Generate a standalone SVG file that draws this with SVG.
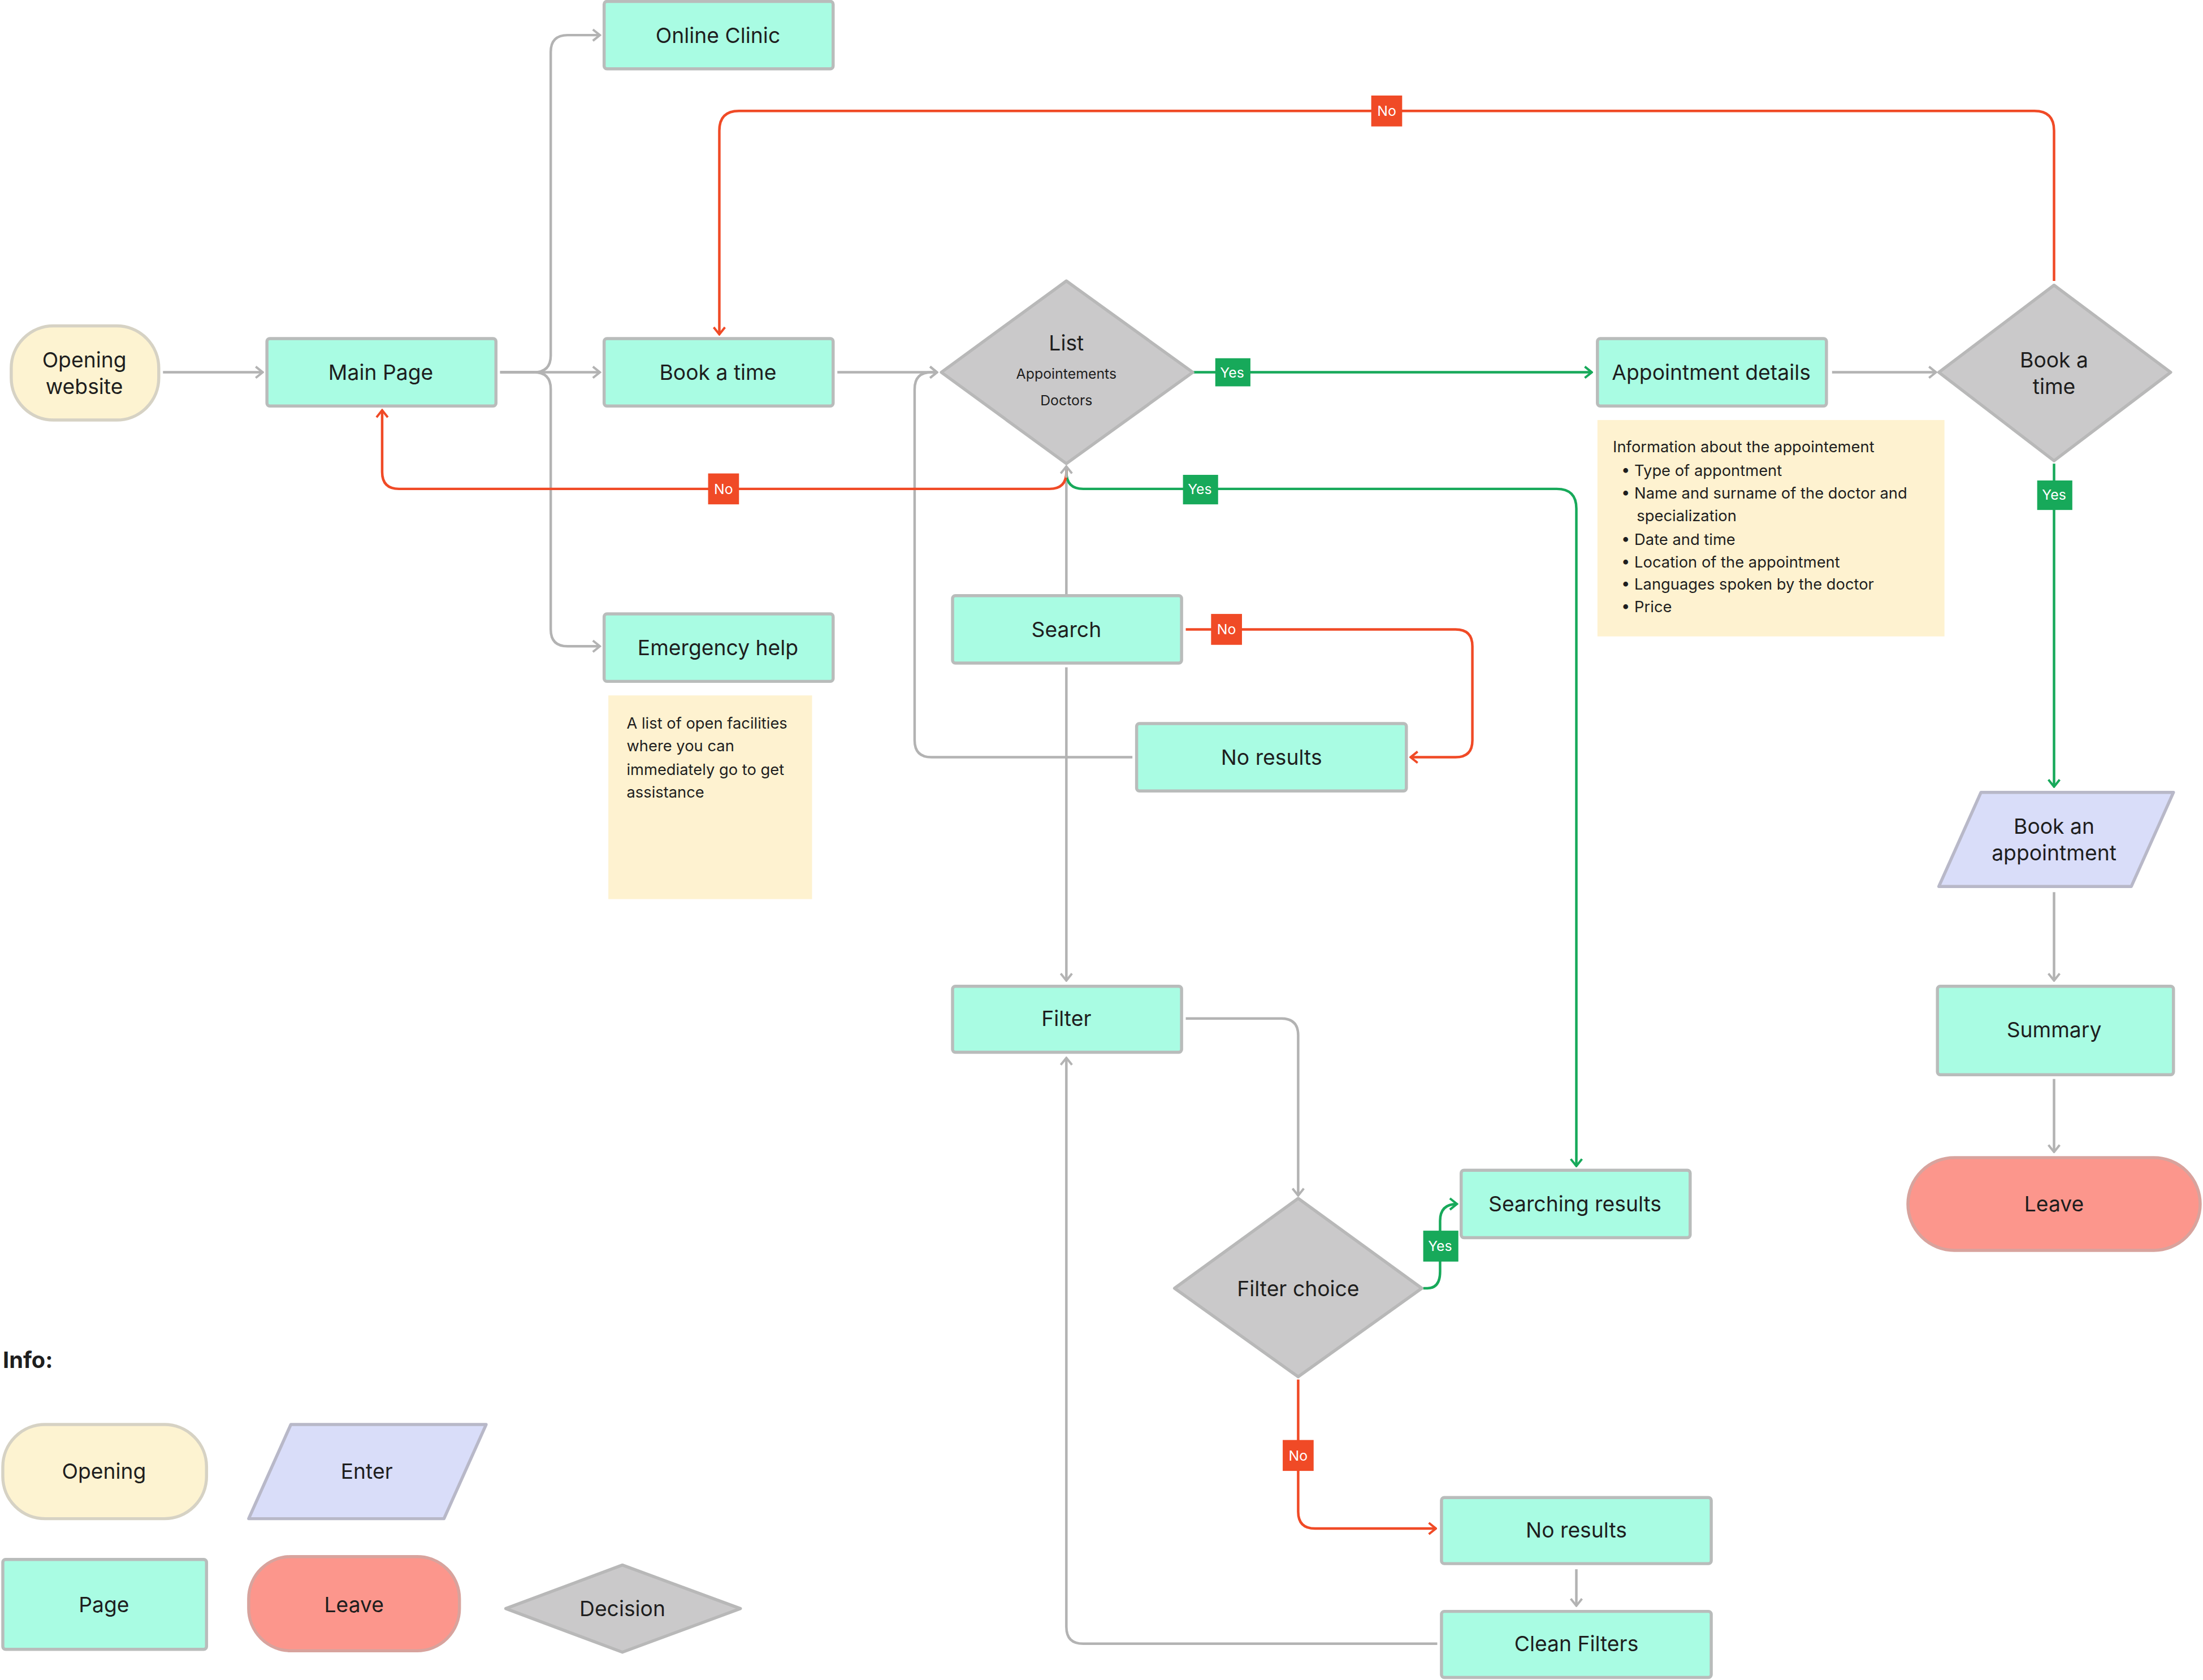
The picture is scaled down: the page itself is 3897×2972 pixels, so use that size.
<svg xmlns="http://www.w3.org/2000/svg" width="3897" height="2972" viewBox="0 0 3897 2972">
<defs>
<style>
text{font-family:Inter,"Liberation Sans",sans-serif;fill:#1e1e1e;text-anchor:middle;dominant-baseline:central}
.pg{fill:#a9fce3;stroke:#b9bcbb;stroke-width:2.2}
.op{fill:#fdf3d1;stroke:#d6d2c4;stroke-width:2.2}
.dm{fill:#cac9ca;stroke:#b8b8b8;stroke-width:2.2}
.en{fill:#d9ddf9;stroke:#b8b8c8;stroke-width:2.2}
.lv{fill:#fc968c;stroke:#d8a39d;stroke-width:2.2}
.nt{fill:#fef2d0}
.t{font-size:15px}
.s{font-size:11px;text-anchor:start}
.g{fill:none;stroke:#b3b3b3;stroke-width:1.8}
.r{fill:none;stroke:#f04a26;stroke-width:1.8}
.gr{fill:none;stroke:#17a95a;stroke-width:1.8}
.lr{fill:#f04a26}.lg{fill:#17a95a}
.lt{font-size:10px;fill:#fff}
</style>
<marker id="ag" viewBox="0 0 10 10" refX="9" refY="5" markerWidth="10" markerHeight="10" orient="auto" markerUnits="userSpaceOnUse"><path d="M4 1L9 5L4 9" fill="none" stroke="#b3b3b3" stroke-width="1.6"/></marker>
<marker id="ar" viewBox="0 0 10 10" refX="9" refY="5" markerWidth="10" markerHeight="10" orient="auto" markerUnits="userSpaceOnUse"><path d="M4 1L9 5L4 9" fill="none" stroke="#f04a26" stroke-width="1.6"/></marker>
<marker id="agr" viewBox="0 0 10 10" refX="9" refY="5" markerWidth="10" markerHeight="10" orient="auto" markerUnits="userSpaceOnUse"><path d="M4 1L9 5L4 9" fill="none" stroke="#17a95a" stroke-width="1.6"/></marker>
</defs>
<rect width="3897" height="2972" fill="#fff"/>
<g transform="scale(2.4853)">
<g id="connectors">
<path class="g" d="M116 265H187" marker-end="url(#ag)"/>
<path class="g" d="M356 265H427" marker-end="url(#ag)"/>
<path class="g" d="M356 265H380Q392 265 392 253V37Q392 25 404 25H427" marker-end="url(#ag)"/>
<path class="g" d="M356 265H380Q392 265 392 277V448Q392 460 404 460H427" marker-end="url(#ag)"/>
<path class="g" d="M596 265H667" marker-end="url(#ag)"/>
<path class="g" d="M1304 265H1378" marker-end="url(#ag)"/>
<path class="g" d="M1462 635V698" marker-end="url(#ag)"/>
<path class="g" d="M1462 768V820" marker-end="url(#ag)"/>
<path class="g" d="M759 424V332"/>
<path class="g" d="M759 475V698" marker-end="url(#ag)"/>
<path class="g" d="M806 539H663Q651 539 651 527V277Q651 265 663 265H667" marker-end="url(#ag)"/>
<path class="g" d="M844 725H912Q924 725 924 737V851" marker-end="url(#ag)"/>
<path class="g" d="M1122 1117V1143" marker-end="url(#ag)"/>
<path class="g" d="M1023 1170H771Q759 1170 759 1158V753" marker-end="url(#ag)"/>
<path class="gr" d="M849 265H1133" marker-end="url(#agr)"/>
<path class="gr" d="M1462 330V560" marker-end="url(#agr)"/>
<path class="gr" d="M759 333V336Q759 348 771 348H1108Q1122 348 1122 362V830" marker-end="url(#agr)"/>
<path class="gr" d="M1013 917H1016Q1025 917 1025 905V869Q1025 857 1037 857" marker-end="url(#agr)"/>
<path class="r" d="M1462 200V93Q1462 79 1448 79H526Q512 79 512 93V238" marker-end="url(#ar)"/>
<path class="r" d="M759 333V336Q759 348 747 348H284Q272 348 272 336V292" marker-end="url(#ar)"/>
<path class="r" d="M844 448H1036Q1048 448 1048 460V527Q1048 539 1036 539H1004" marker-end="url(#ar)"/>
<path class="r" d="M924 982V1076Q924 1088 936 1088H1022" marker-end="url(#ar)"/>
<path class="g" d="M759 340V332" marker-end="url(#ag)"/>
<rect class="lg" x="865" y="255" width="25" height="20"/><text class="lt" x="877" y="265">Yes</text>
<rect class="lg" x="1450" y="342" width="25" height="21"/><text class="lt" x="1462" y="352">Yes</text>
<rect class="lg" x="842" y="338" width="25" height="21"/><text class="lt" x="854" y="348">Yes</text>
<rect class="lg" x="1013" y="876" width="25" height="22"/><text class="lt" x="1025" y="887">Yes</text>
<rect class="lr" x="976" y="68" width="22" height="22"/><text class="lt" x="987" y="79">No</text>
<rect class="lr" x="504" y="337" width="22" height="22"/><text class="lt" x="515" y="348">No</text>
<rect class="lr" x="862" y="437" width="22" height="22"/><text class="lt" x="873" y="448">No</text>
<rect class="lr" x="913" y="1025" width="22" height="22"/><text class="lt" x="924" y="1036">No</text>
</g>
<g id="opening"><rect class="op" x="8" y="232" width="105" height="67" rx="30"/><text class="t" x="60" y="256">Opening</text><text class="t" x="60" y="275">website</text></g>
<g id="main"><rect class="pg" x="190" y="241" width="163" height="48" rx="2"/><text class="t" x="271" y="265">Main Page</text></g>
<g id="clinic"><rect class="pg" x="430" y="1" width="163" height="48" rx="2"/><text class="t" x="511" y="25">Online Clinic</text></g>
<g id="booktime"><rect class="pg" x="430" y="241" width="163" height="48" rx="2"/><text class="t" x="511" y="265">Book a time</text></g>
<g id="emergency"><rect class="pg" x="430" y="437" width="163" height="48" rx="2"/><text class="t" x="511" y="461">Emergency help</text></g>
<g id="note1"><rect class="nt" x="433" y="495" width="145" height="145"/>
<text class="s" x="446" y="515">A list of open facilities</text><text class="s" x="446" y="531">where you can</text><text class="s" x="446" y="548">immediately go to get</text><text class="s" x="446" y="564">assistance</text></g>
<g id="list"><path class="dm" d="M759 200L849 265L759 330L670 265Z" stroke-linejoin="round"/><text class="t" x="759" y="244">List</text><text x="759" y="266" font-size="10">Appointements</text><text x="759" y="285" font-size="10">Doctors</text></g>
<g id="apptdetails"><rect class="pg" x="1137" y="241" width="163" height="48" rx="2"/><text class="t" x="1218" y="265">Appointment details</text></g>
<g id="note2"><rect class="nt" x="1137" y="299" width="247" height="154"/>
<text class="s" x="1148" y="318">Information about the appointement</text>
<text class="s" x="1154" y="335">•  Type of appontment</text>
<text class="s" x="1154" y="351">•  Name and surname of the doctor and</text>
<text class="s" x="1165" y="367">specialization</text>
<text class="s" x="1154" y="384">•  Date and time</text>
<text class="s" x="1154" y="400">•  Location of the appointment</text>
<text class="s" x="1154" y="416">•  Languages spoken by the doctor</text>
<text class="s" x="1154" y="432">•  Price</text></g>
<g id="bookdec"><path class="dm" d="M1462 203L1545 265L1462 328L1380 265Z" stroke-linejoin="round"/><text class="t" x="1462" y="256">Book a</text><text class="t" x="1462" y="275">time</text></g>
<g id="bookappt"><path class="en" d="M1410 564H1547L1517 631H1380Z" stroke-linejoin="round"/><text class="t" x="1462" y="588">Book an</text><text class="t" x="1462" y="607">appointment</text></g>
<g id="summary"><rect class="pg" x="1379" y="702" width="168" height="63" rx="2"/><text class="t" x="1462" y="733">Summary</text></g>
<g id="leave"><rect class="lv" x="1358" y="824" width="208" height="66" rx="33"/><text class="t" x="1462" y="857">Leave</text></g>
<g id="search"><rect class="pg" x="678" y="424" width="163" height="48" rx="2"/><text class="t" x="759" y="448">Search</text></g>
<g id="noresults1"><rect class="pg" x="809" y="515" width="192" height="48" rx="2"/><text class="t" x="905" y="539">No results</text></g>
<g id="filter"><rect class="pg" x="678" y="702" width="163" height="47" rx="2"/><text class="t" x="759" y="725">Filter</text></g>
<g id="filterchoice"><path class="dm" d="M924 853L1012 917L924 980L836 917Z" stroke-linejoin="round"/><text class="t" x="924" y="917">Filter choice</text></g>
<g id="searchresults"><rect class="pg" x="1040" y="833" width="163" height="48" rx="2"/><text class="t" x="1121" y="857">Searching results</text></g>
<g id="noresults2"><rect class="pg" x="1026" y="1066" width="192" height="47" rx="2"/><text class="t" x="1122" y="1089">No results</text></g>
<g id="cleanfilters"><rect class="pg" x="1026" y="1147" width="192" height="47" rx="2"/><text class="t" x="1122" y="1170">Clean Filters</text></g>
<g id="legend">
<text x="2" y="968" font-size="16" font-weight="bold" style="text-anchor:start">Info:</text>
<rect class="op" x="2" y="1014" width="145" height="67" rx="30"/><text class="t" x="74" y="1047">Opening</text>
<path class="en" d="M207 1014H346L316 1081H177Z" stroke-linejoin="round"/><text class="t" x="261" y="1047">Enter</text>
<rect class="pg" x="2" y="1110" width="145" height="64" rx="2"/><text class="t" x="74" y="1142">Page</text>
<rect class="lv" x="177" y="1108" width="150" height="67" rx="30"/><text class="t" x="252" y="1142">Leave</text>
<path class="dm" d="M443 1114L527 1145L443 1176L360 1145Z" stroke-linejoin="round"/><text class="t" x="443" y="1145">Decision</text>
</g>
</g>
</svg>
